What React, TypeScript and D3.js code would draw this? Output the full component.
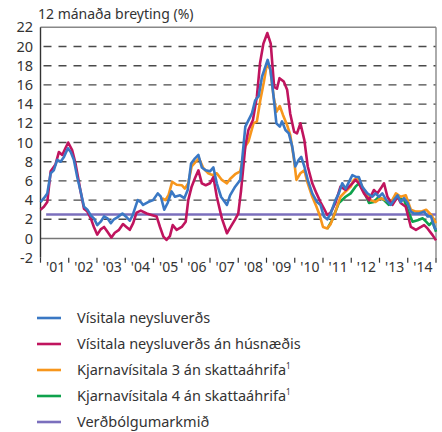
import React from 'react';
import * as d3 from 'd3';

// [decimal year, 12 month change %]
const cpi = [
  [2001.0, 3.8], [2001.12, 4.2], [2001.24, 4.7], [2001.36, 6.8], [2001.47, 7.1], [2001.59, 8.2],
  [2001.71, 8.0], [2001.83, 8.5], [2001.97, 9.4], [2002.07, 9.0], [2002.18, 8.2], [2002.3, 6.4],
  [2002.42, 4.9], [2002.54, 3.3], [2002.66, 3.0], [2002.78, 2.4], [2002.89, 2.1], [2003.01, 1.4],
  [2003.13, 1.75], [2003.25, 2.3], [2003.37, 2.1], [2003.49, 1.6], [2003.6, 2.0], [2003.72, 2.2],
  [2003.9, 2.6], [2004.02, 2.3], [2004.16, 1.85], [2004.26, 2.4], [2004.44, 4.0], [2004.55, 3.8],
  [2004.63, 3.5], [2004.81, 3.8], [2004.99, 4.0], [2005.15, 4.7], [2005.26, 4.35], [2005.38, 3.0],
  [2005.5, 3.7], [2005.64, 4.9], [2005.76, 4.35], [2005.94, 4.5], [2006.09, 4.2], [2006.21, 5.05],
  [2006.33, 7.8], [2006.47, 8.35], [2006.59, 8.7], [2006.71, 7.4], [2006.85, 7.1], [2007.0, 7.0],
  [2007.12, 7.4], [2007.24, 5.75], [2007.39, 4.35], [2007.6, 3.5], [2007.71, 4.5], [2007.89, 5.4],
  [2008.07, 6.1], [2008.25, 11.65], [2008.36, 12.3], [2008.48, 13.0], [2008.6, 14.4], [2008.72, 14.8],
  [2008.84, 16.85], [2008.96, 17.9], [2009.04, 18.6], [2009.14, 17.55], [2009.25, 14.8], [2009.35, 12.0],
  [2009.47, 11.65], [2009.55, 12.2], [2009.67, 11.3], [2009.79, 10.95], [2009.91, 9.6], [2010.02, 7.5],
  [2010.14, 8.2], [2010.23, 8.5], [2010.34, 7.5], [2010.46, 6.1], [2010.62, 4.7], [2010.79, 3.8],
  [2010.91, 3.5], [2011.03, 2.3], [2011.15, 2.0], [2011.27, 2.6], [2011.44, 4.0], [2011.56, 4.7],
  [2011.68, 5.75], [2011.8, 5.2], [2011.92, 5.9], [2012.04, 6.6], [2012.18, 6.4], [2012.27, 6.4],
  [2012.39, 5.4], [2012.57, 4.7], [2012.75, 4.35], [2012.86, 4.7], [2012.98, 4.35], [2013.1, 4.7],
  [2013.24, 4.0], [2013.4, 3.5], [2013.51, 4.0], [2013.64, 4.5], [2013.75, 3.8], [2013.87, 4.2],
  [2013.99, 3.7], [2014.11, 2.8], [2014.23, 2.6], [2014.4, 2.6], [2014.58, 2.8], [2014.7, 2.3],
  [2014.82, 2.3], [2014.94, 1.2], [2015.0, 0.9],
];

const cpiExHousing = [
  [2001.0, 3.0], [2001.12, 3.3], [2001.24, 3.8], [2001.36, 7.0], [2001.53, 7.7], [2001.65, 9.0],
  [2001.77, 8.7], [2001.88, 9.4], [2001.98, 10.0], [2002.12, 9.2], [2002.24, 7.8], [2002.42, 4.9],
  [2002.54, 3.1], [2002.66, 2.8], [2002.78, 2.1], [2002.89, 1.2], [2003.01, 0.4], [2003.13, 0.95],
  [2003.25, 1.2], [2003.37, 0.7], [2003.51, 0.1], [2003.63, 0.6], [2003.78, 0.9], [2003.92, 1.5],
  [2004.04, 1.2], [2004.16, 0.9], [2004.28, 1.6], [2004.4, 2.7], [2004.55, 2.9], [2004.76, 2.6],
  [2004.93, 2.45], [2005.11, 2.3], [2005.23, 1.2], [2005.35, 0.2], [2005.46, -0.15], [2005.58, 0.25],
  [2005.68, 1.4], [2005.82, 0.9], [2006.0, 1.2], [2006.14, 1.75], [2006.23, 4.0], [2006.35, 5.4],
  [2006.47, 6.3], [2006.59, 7.1], [2006.71, 5.75], [2006.85, 5.55], [2007.0, 5.75], [2007.12, 6.4],
  [2007.24, 4.35], [2007.42, 2.1], [2007.6, 0.55], [2007.71, 1.1], [2007.89, 2.0], [2008.0, 2.6],
  [2008.1, 5.0], [2008.25, 9.6], [2008.36, 11.3], [2008.52, 12.35], [2008.66, 14.8], [2008.77, 18.25],
  [2008.89, 20.3], [2009.03, 21.4], [2009.15, 20.3], [2009.27, 15.8], [2009.37, 15.6], [2009.46, 16.7],
  [2009.61, 16.35], [2009.73, 15.5], [2009.84, 13.0], [2009.98, 11.1], [2010.08, 10.95], [2010.2, 12.0],
  [2010.34, 10.25], [2010.46, 7.5], [2010.62, 5.75], [2010.77, 4.7], [2010.91, 3.8], [2011.03, 3.15],
  [2011.15, 2.45], [2011.27, 2.7], [2011.44, 3.7], [2011.62, 5.4], [2011.8, 5.05], [2011.92, 5.4],
  [2012.04, 5.75], [2012.15, 6.1], [2012.27, 5.75], [2012.45, 4.7], [2012.63, 4.0], [2012.8, 5.05],
  [2012.92, 4.7], [2013.04, 5.2], [2013.16, 5.75], [2013.28, 4.35], [2013.46, 3.5], [2013.64, 4.35],
  [2013.75, 3.7], [2013.93, 3.3], [2014.11, 1.2], [2014.29, 0.9], [2014.47, 1.2], [2014.58, 1.4],
  [2014.7, 1.05], [2014.88, 0.35], [2015.0, -0.2],
];

const core3 = [
  [2005.3, 4.2], [2005.42, 4.0], [2005.53, 4.5], [2005.66, 5.9], [2005.82, 5.6], [2006.0, 5.55],
  [2006.11, 5.2], [2006.23, 5.75], [2006.35, 7.5], [2006.5, 8.0], [2006.61, 8.35], [2006.77, 7.3],
  [2006.94, 6.8], [2007.09, 6.6], [2007.24, 6.8], [2007.42, 6.1], [2007.6, 5.75], [2007.71, 6.2],
  [2007.89, 6.7], [2008.07, 7.0], [2008.25, 9.6], [2008.36, 10.1], [2008.54, 12.0], [2008.66, 12.2],
  [2008.78, 14.4], [2008.9, 16.2], [2009.02, 18.25], [2009.14, 17.55], [2009.25, 14.8], [2009.35, 13.2],
  [2009.47, 13.8], [2009.58, 12.9], [2009.73, 11.8], [2009.84, 10.8], [2009.96, 8.5], [2010.06, 6.1],
  [2010.2, 6.8], [2010.34, 7.1], [2010.46, 5.75], [2010.62, 4.35], [2010.77, 3.3], [2010.88, 2.45],
  [2011.0, 1.2], [2011.15, 1.05], [2011.27, 1.5], [2011.44, 2.8], [2011.62, 4.35], [2011.8, 4.9],
  [2011.98, 5.4], [2012.09, 6.1], [2012.21, 6.3], [2012.33, 5.75], [2012.51, 4.7], [2012.69, 4.0],
  [2012.86, 3.8], [2013.04, 4.2], [2013.22, 4.0], [2013.4, 3.7], [2013.58, 4.7], [2013.75, 4.35],
  [2013.93, 4.5], [2014.11, 3.0], [2014.29, 2.8], [2014.47, 2.8], [2014.65, 3.0], [2014.83, 2.45],
  [2015.0, 1.6],
];

const core4 = [
  [2011.15, 1.0], [2011.32, 1.9], [2011.56, 3.7], [2011.8, 4.35], [2011.98, 4.7], [2012.15, 5.4],
  [2012.27, 5.75], [2012.45, 4.9], [2012.63, 3.7], [2012.8, 3.8], [2012.98, 4.35], [2013.16, 4.0],
  [2013.33, 3.5], [2013.51, 4.2], [2013.69, 4.2], [2013.87, 4.0], [2014.05, 2.6], [2014.17, 1.75],
  [2014.35, 1.9], [2014.53, 2.1], [2014.65, 1.75], [2014.76, 1.4], [2014.88, 1.75], [2015.0, 0.7],
];

const target = [[2001.2, 2.5], [2015.0, 2.5]];

const yTicks = [-2, 0, 2, 4, 6, 8, 10, 12, 14, 16, 18, 20, 22];
const years = [2001, 2002, 2003, 2004, 2005, 2006, 2007, 2008, 2009, 2010, 2011, 2012, 2013, 2014];
const yearLabels = ["'01", "'02", "'03", "'04", "'05", "'06", "'07", "'08", "'09", "'10", "'11", "'12", "'13", "'14"];

const legendNames = [
  'Vísitala neysluverðs',
  'Vísitala neysluverðs án húsnæðis',
  'Kjarnavísitala 3 án skattaáhrifa',
  'Kjarnavísitala 4 án skattaáhrifa',
  'Verðbólgumarkmið',
];
const colors = ['#3a78c4', '#c0145e', '#f7961c', '#0ea24c', '#7b6fbd'];

const font = '"Noto Sans", "Open Sans", sans-serif';

export default function App() {
  const left = 40.5, right = 436, top = 27.3, bottom = 257.7;
  const x = d3.scaleLinear().domain([2001, 2015]).range([left, right]);
  const y = d3.scaleLinear().domain([-2, 22]).range([bottom, top]);
  const line = d3.line<number[]>().x((d) => x(d[0])).y((d) => y(d[1]));

  // draw order: target first, blue on top
  const series = [
    { data: target, color: colors[4] },
    { data: core4, color: colors[3] },
    { data: core3, color: colors[2] },
    { data: cpiExHousing, color: colors[1] },
    { data: cpi, color: colors[0] },
  ];

  return (
    <svg width={442} height={432} style={{ position: 'absolute', left: 0, top: 0, background: '#fff' }}
      fontFamily={font}>
      <text x={38} y={19} fontSize={14} fill="#333">12 mánaða breyting (%)</text>

      {yTicks.filter((t) => t > 0 && t < 22).map((t) => (
        <line key={t} x1={left} x2={right} y1={y(t)} y2={y(t)} stroke="#4a4a4a" strokeWidth={1.4}
          strokeDasharray="8,7" strokeDashoffset={-3} />
      ))}
      <line x1={left} x2={right} y1={y(0)} y2={y(0)} stroke="#777" strokeWidth={1.4} />
      <line x1={left} x2={right} y1={top} y2={top} stroke="#888" strokeWidth={1.4} />
      <line x1={right} x2={right} y1={top} y2={bottom} stroke="#888" strokeWidth={1.4} />
      <line x1={left} x2={left} y1={top} y2={bottom} stroke="#333" strokeWidth={1.4} />

      {yTicks.map((t) => (
        <text key={t} x={33} y={y(t) + 5} fontSize={14.5} textAnchor="end" fill="#333">{t}</text>
      ))}

      {[...years, 2015].map((yr) => (
        <line key={yr} x1={x(yr)} x2={x(yr)} y1={bottom} y2={bottom + 5} stroke="#333" strokeWidth={1.2} />
      ))}
      {years.map((yr, i) => (
        <text key={yr} x={x(yr + 0.5) + 1} y={272} fontSize={14} textAnchor="middle" fill="#333">
          {yearLabels[i]}
        </text>
      ))}

      {series.map((s, i) => (
        <path key={i} d={line(s.data as number[][]) || ''} fill="none" stroke={s.color}
          strokeWidth={2.6} strokeLinejoin="round" />
      ))}

      {legendNames.map((name, i) => {
        const ly = 318 + i * 26;
        return (
          <g key={name}>
            <line x1={37} x2={61} y1={ly} y2={ly} stroke={colors[i]} strokeWidth={2.6} />
            <text x={77} y={ly + 5} fontSize={14.5} fill="#333">
              {name}
              {(i === 2 || i === 3) && <tspan fontSize={8} dy={-6}>1</tspan>}
            </text>
          </g>
        );
      })}
    </svg>
  );
}
